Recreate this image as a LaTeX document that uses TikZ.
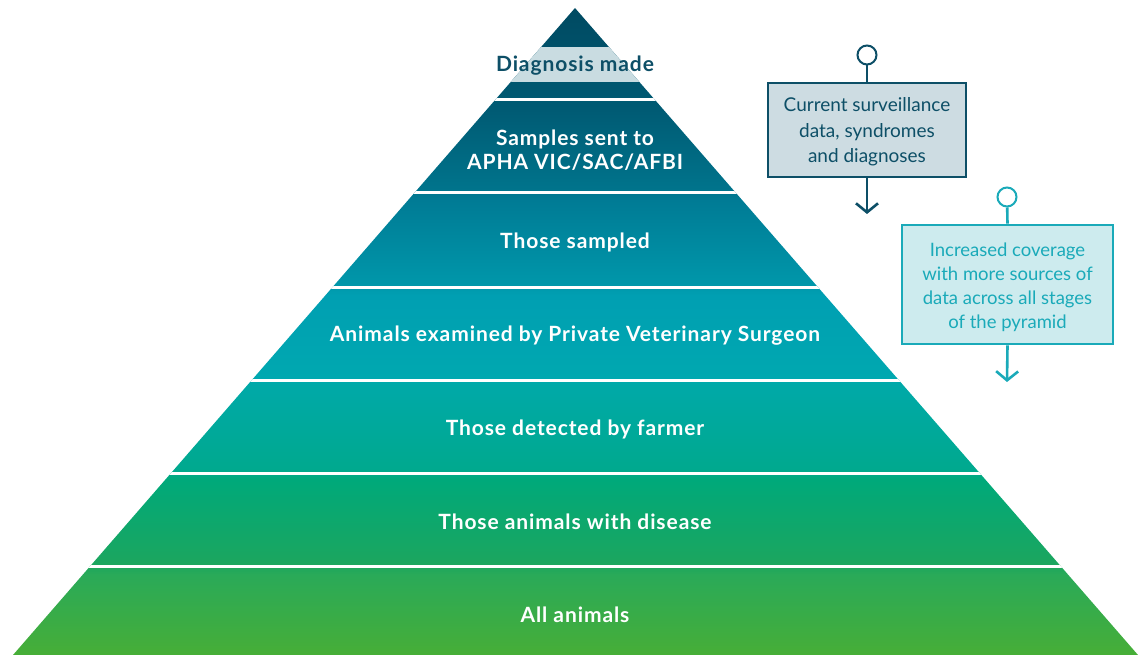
\documentclass[tikz,border=0pt]{standalone}
\usepackage{fontspec}
\setmainfont{Lato}
\usetikzlibrary{arrows.meta}
\definecolor{navy}{HTML}{0D4F67}
\definecolor{navyfill}{HTML}{CDDCE2}
\definecolor{tealc}{HTML}{1AAAB9}
\definecolor{tealfill}{HTML}{CDEBEE}
\definecolor{strip}{HTML}{C9DCE1}
\definecolor{pyrA}{HTML}{47AE37}
\definecolor{pyrB}{HTML}{2AAA58}
\definecolor{pyrC}{HTML}{1CA65E}
\definecolor{pyrD}{HTML}{00A97A}
\definecolor{pyrE}{HTML}{00A98E}
\definecolor{pyrF}{HTML}{00A9A8}
\definecolor{pyrG}{HTML}{00A8B0}
\definecolor{pyrH}{HTML}{009FB2}
\definecolor{pyrI}{HTML}{0097AA}
\definecolor{pyrJ}{HTML}{007B95}
\definecolor{pyrK}{HTML}{00748C}
\definecolor{pyrL}{HTML}{005B74}
\definecolor{pyrM}{HTML}{004A62}
\pgfdeclareverticalshading{pyr}{100bp}{%
  color(0bp)=(pyrA); color(25bp)=(pyrA); color(31.18bp)=(pyrB); color(31.96bp)=(pyrC);
  color(38.52bp)=(pyrD); color(39.30bp)=(pyrE); color(45.87bp)=(pyrF); color(46.41bp)=(pyrG);
  color(52.82bp)=(pyrH); color(53.59bp)=(pyrI); color(60.16bp)=(pyrJ); color(60.94bp)=(pyrK);
  color(67.12bp)=(pyrL); color(75bp)=(pyrM); color(100bp)=(pyrM)}
\newfontfamily\lvlfont[LetterSpace=4.3]{Lato}
\tikzset{
  lvl/.style={text=white, font=\lvlfont\fontsize{21}{24}\selectfont\bfseries, align=center},
  infobox/.style={line width=2.6pt, align=center, inner sep=0pt},
  knob/.style={circle, draw, fill=white, line width=2pt, minimum size=19pt, inner sep=0pt},
  conn/.style={line width=2.6pt},
  downarrow/.style={line width=2.6pt, -{Straight Barb[length=9pt, width=22pt, line width=2.6pt]}}
}
\begin{document}
\begin{tikzpicture}[x=1pt,y=-1pt]
\useasboundingbox (0,0) rectangle (1138,655);
% pyramid
\path[shading=pyr] (575,8) -- (1138,655) -- (13,655) -- cycle;
\begin{scope}
  \clip (575,8) -- (1138,655) -- (13,655) -- cycle;
  \fill[strip] (0,47) rectangle (1138,82);
  \foreach \yy in {99.5,193,287,380,473,566}{
    \draw[white, line width=3pt] (0,\yy) -- (1138,\yy);
  }
\end{scope}
% labels
\node[lvl, text=navy] (l1) at (575,66) {Diagnosis made};
\node[lvl] (l2) at (575,150.5) {Samples sent to\\APHA VIC/SAC/AFBI};
\node[lvl] (l3) at (575,242) {Those sampled};
\node[lvl] (l4) at (575,336) {Animals examined by Private Veterinary Surgeon};
\node[lvl] (l5) at (575,429) {Those detected by farmer};
\node[lvl] (l6) at (575,522) {Those animals with disease};
\node[lvl] (l7) at (575,615) {All animals};
% box 1
\node[infobox, draw=navy, fill=navyfill, minimum width=198pt, minimum height=94pt] (b1) at (867,130) {};
\node[font=\fontsize{19}{25.5}\selectfont, text=navy, align=center, inner sep=0pt] (t1) at (867,132)
  {Current surveillance\\data, syndromes\\and diagnoses};
\node[knob, draw=navy] (k1) at (867,55) {};
\coordinate (e1) at (867,214);
\draw[conn, navy] (k1) -- (b1.north);
\draw[downarrow, navy] (b1.south) -- (e1);
% box 2
\node[infobox, draw=tealc, fill=tealfill, minimum width=211pt, minimum height=119pt] (b2) at (1007.5,284.5) {};
\node[font=\fontsize{18.5}{24}\selectfont, text=tealc, align=center, inner sep=0pt] (t2) at (1007.5,287)
  {Increased coverage\\with more sources of\\data across all stages\\of the pyramid};
\node[knob, draw=tealc] (k2) at (1007,197) {};
\coordinate (e2) at (1007,382);
\draw[conn, tealc] (k2) -- (b2.north);
\draw[downarrow, tealc] (b2.south) -- (e2);
\end{tikzpicture}
\end{document}
